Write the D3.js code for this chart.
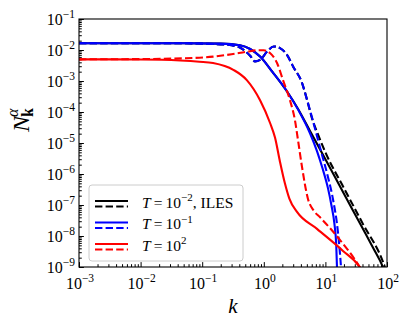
<!DOCTYPE html>
<html><head><meta charset="utf-8">
<script src="https://cdn.jsdelivr.net/npm/d3@7"></script>
<style>body{margin:0;background:#fff} svg{display:block}</style>
</head><body><svg id="c" width="415" height="332"></svg>
<script>
// ---- data (k, N) ----
const xTickExps = [-3, -2, -1, 0, 1, 2];
const yTickExps = [-9, -8, -7, -6, -5, -4, -3, -2, -1];

const blackSolid = [[0.001,1.65e-2],[0.05,1.65e-2],[0.2,1.6e-2],[0.41,1.42e-2],[0.6,1.08e-2],[0.87,6.2e-3],[1.4,1.9e-3],[2.4,4.5e-4],[3.6,1.25e-4],[5.6,2.5e-5],[10,3e-6],[20,2.3e-7],[40,1.8e-8],[60,4e-9],[85,1.05e-9],[95,6e-10]];
const blackDashed = [[0.001,1.65e-2],[0.05,1.65e-2],[0.1,1.6e-2],[0.2,1.52e-2],[0.3,1.42e-2],[0.41,1.2e-2],[0.6,6.5e-3],[0.72,4.3e-3],[0.87,4.8e-3],[1.13,8.9e-3],[1.45,1.3e-2],[1.83,1.15e-2],[2.38,7e-3],[3,2.9e-3],[4.17,8.7e-4],[5.0,2.6e-4],[6.1,6e-5],[7.5,2e-5],[10,5e-6],[20,3.5e-7],[40,2.6e-8],[92,1e-9],[100,6e-10]];
const blueSolid = [[0.001,1.65e-2],[0.05,1.65e-2],[0.2,1.6e-2],[0.41,1.42e-2],[0.6,1.08e-2],[0.87,6.2e-3],[1.4,1.9e-3],[2.4,4.5e-4],[3.6,1.2e-4],[5.6,2.1e-5],[7.3,5.5e-6],[9,1.5e-6],[11,3.5e-7],[12.5,1e-7],[14,2.5e-8],[15,5e-9],[15.6,5e-10]];
const blueDashed = [[0.001,1.65e-2],[0.05,1.65e-2],[0.1,1.6e-2],[0.2,1.52e-2],[0.3,1.42e-2],[0.41,1.2e-2],[0.6,6.5e-3],[0.72,4.3e-3],[0.87,4.8e-3],[1.13,8.9e-3],[1.45,1.3e-2],[1.83,1.15e-2],[2.38,7e-3],[3,2.9e-3],[4.17,8.7e-4],[5.0,2.6e-4],[6.5,4e-5],[8.2,7e-6],[11,8e-7],[13.3,1.5e-7],[16,1.3e-8],[17.9,1e-9],[18.3,5e-10]];
const redSolid = [[0.001,5e-3],[0.01,4.95e-3],[0.044,4.6e-3],[0.09,4.2e-3],[0.15,3.8e-3],[0.32,2.3e-3],[0.53,1.07e-3],[0.87,2.4e-4],[1.26,4.5e-5],[1.52,1.5e-5],[1.83,2.5e-6],[2.2,5e-7],[2.6,1.6e-7],[3.46,6e-8],[7.3,1.7e-8],[19.3,3.3e-9],[36,1e-9],[40,7e-10]];
const redDashed = [[0.001,5e-3],[0.01,5.1e-3],[0.05,5.4e-3],[0.15,6.1e-3],[0.3,7.3e-3],[0.53,8.8e-3],[0.8,9.8e-3],[1.0,9.8e-3],[1.26,8e-3],[1.64,3.8e-3],[2.05,1.07e-3],[2.66,2.4e-4],[3.2,5.5e-5],[3.6,1.2e-5],[4.17,1.7e-6],[5.2,1.6e-7],[6.5,6.5e-8],[8.2,4e-8],[17.3,7.4e-9],[36,1e-9],[40,7e-10]];

const legendLabels = [["\u22122", ", ILES"], ["\u22121", ""], ["2", ""]];

// ---- layout ----
const L = 79, R = 387, T = 19, B = 267;
const svg = d3.select("#c");
const x = d3.scaleLog().domain([1e-3, 1e2]).range([L, R]);
const y = d3.scaleLog().domain([1e-9, 1e-1]).range([B, T]);
const FONT = "'Liberation Serif','DejaVu Serif',serif";

svg.append("defs").append("clipPath").attr("id","clip")
  .append("rect").attr("x",L).attr("y",T).attr("width",R-L).attr("height",B-T);

// ticks
const xMaj = xTickExps.map(e => Math.pow(10, e));
const yMaj = yTickExps.map(e => Math.pow(10, e));
const minors = (exps) => { const a=[]; exps.slice(0,-1).forEach(e => { for (let m=2;m<=9;m++) a.push(m*Math.pow(10,e)); }); return a; };
const xMin = minors(xTickExps), yMin = minors(yTickExps);

function tickAxis(g, axis){ g.call(axis); g.select(".domain").remove(); g.selectAll(".tick line").attr("stroke","#000").attr("stroke-width",1); g.selectAll("text").remove(); }
svg.append("g").attr("transform",`translate(0,${B})`).call(g=>tickAxis(g, d3.axisBottom(x).tickValues(xMaj).tickSize(-4.9)));
svg.append("g").attr("transform",`translate(0,${B})`).call(g=>tickAxis(g, d3.axisBottom(x).tickValues(xMin).tickSize(-2.8)));
svg.append("g").attr("transform",`translate(${L},0)`).call(g=>tickAxis(g, d3.axisLeft(y).tickValues(yMaj).tickSize(-4.9)));
svg.append("g").attr("transform",`translate(${L},0)`).call(g=>tickAxis(g, d3.axisLeft(y).tickValues(yMin).tickSize(-2.8)));

// curves
const line = d3.line().x(d => x(d[0])).y(d => y(d[1])).curve(d3.curveMonotoneX);
const series = [
  {d: blackSolid, c: "#000000", dash: null},
  {d: blackDashed, c: "#000000", dash: "7.4,3.2"},
  {d: blueSolid, c: "#0000ff", dash: null},
  {d: blueDashed, c: "#0000ff", dash: "7.4,3.2"},
  {d: redSolid, c: "#ff0000", dash: null},
  {d: redDashed, c: "#ff0000", dash: "7.4,3.2"},
];
const cg = svg.append("g").attr("clip-path","url(#clip)");
series.forEach(s => {
  cg.append("path").attr("d", line(s.d)).attr("fill","none").attr("stroke", s.c)
    .attr("stroke-width", 2.1).attr("stroke-dasharray", s.dash);
});

// spines
svg.append("rect").attr("x",L).attr("y",T).attr("width",R-L).attr("height",B-T)
  .attr("fill","none").attr("stroke","#000").attr("stroke-width",1.1);

// tick labels
function pow10Label(g, e, anchor){
  const t = g.append("text").attr("font-family",FONT).attr("font-size",16).attr("fill","#000").attr("text-anchor",anchor);
  t.append("tspan").text("10");
  t.append("tspan").attr("dy",-7).attr("font-size",11.5).text(e < 0 ? "\u2212" + (-e) : "" + e);
  return t;
}
xTickExps.forEach(e => {
  pow10Label(svg, e, "middle").attr("x", x(Math.pow(10,e)) + 1).attr("y", B + 22);
});
yTickExps.forEach(e => {
  pow10Label(svg, e, "end").attr("x", L - 4).attr("y", y(Math.pow(10,e)) + 6);
});

// axis labels
svg.append("text").attr("x",(L+R)/2).attr("y",313).attr("text-anchor","middle")
  .attr("font-family",FONT).attr("font-size",21).attr("font-style","italic").text("k");
const yl = svg.append("text").attr("transform","translate(29,120) rotate(-90)").attr("text-anchor","middle")
  .attr("font-family",FONT).attr("font-size",24);
yl.append("tspan").attr("font-style","italic").text("N");
yl.append("tspan").attr("font-weight","bold").attr("font-size",16).attr("dy",4).attr("dx",-1).text("k");
yl.append("tspan").attr("font-style","italic").attr("font-size",16).attr("dy",-15).attr("dx",-9).text("\u03b1");

// legend
const lg = svg.append("g");
lg.append("rect").attr("x",89).attr("y",185).attr("width",154).attr("height",76).attr("rx",3)
  .attr("fill","#fff").attr("fill-opacity",0.8).attr("stroke","#cccccc").attr("stroke-width",1);
const legColors = ["#000000", "#0000ff", "#ff0000"];
legendLabels.forEach((lab, i) => {
  const cy = 203.5 + i * 21.5;
  lg.append("line").attr("x1",95).attr("x2",128).attr("y1",cy-2.5).attr("y2",cy-2.5).attr("stroke",legColors[i]).attr("stroke-width",2.1);
  lg.append("line").attr("x1",95).attr("x2",128).attr("y1",cy+3).attr("y2",cy+3).attr("stroke",legColors[i]).attr("stroke-width",2.1).attr("stroke-dasharray","7.4,3.2");
  const t = lg.append("text").attr("x",142).attr("y",cy+4).attr("font-family",FONT).attr("font-size",15.5).attr("fill","#000");
  t.append("tspan").attr("font-style","italic").text("T");
  t.append("tspan").text("\u2009=\u200910");
  t.append("tspan").attr("dy",-6.5).attr("font-size",11).text(lab[0]);
  if (lab[1]) t.append("tspan").attr("dy",6.5).text(lab[1]);
});
</script></body></html>
